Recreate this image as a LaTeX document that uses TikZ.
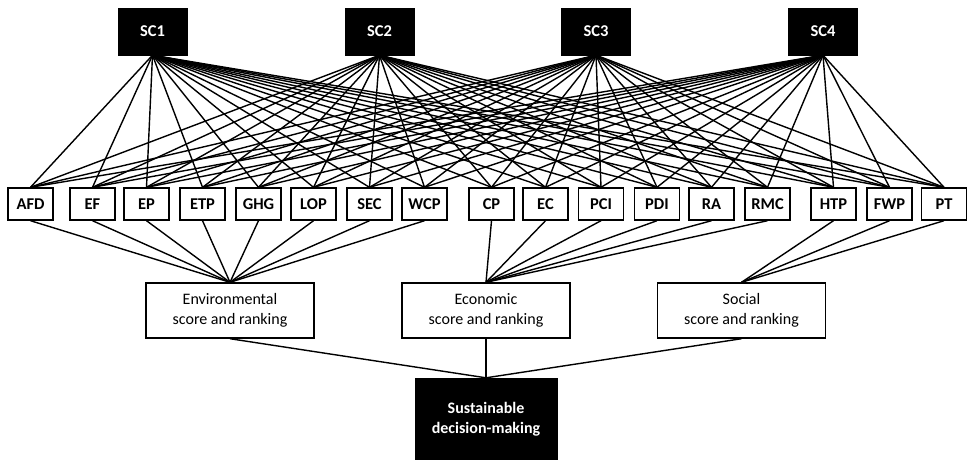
\documentclass[tikz,border=0pt]{standalone}
\usepackage{fontspec}
\setmainfont{Carlito}
\begin{document}
\begin{tikzpicture}[x=1pt,y=-1pt,
  scenario/.style={draw=black,fill=black,text=white,font=\fontsize{16.5}{19}\selectfont\bfseries,
    minimum width=69pt,minimum height=47pt,inner sep=0pt},
  indicator/.style={draw=black,line width=1.4pt,fill=white,font=\fontsize{16.5}{19}\selectfont\bfseries,
    minimum width=45pt,minimum height=32pt,inner sep=0pt},
  pillar/.style={draw=black,line width=1.4pt,fill=white,font=\fontsize{16}{19.5}\selectfont,
    align=center,minimum width=168pt,minimum height=55pt,inner sep=0pt},
  decision/.style={draw=black,fill=black,text=white,font=\fontsize{16}{20}\selectfont\bfseries,
    align=center,minimum width=142pt,minimum height=82pt,inner sep=0pt},
  link/.style={line width=1.4pt}]
\useasboundingbox (0,0) rectangle (968,459);

% scenarios
\node[scenario] (SC1) at (152.5,31.5) {SC1};
\node[scenario] (SC2) at (379.5,31.5) {SC2};
\node[scenario] (SC3) at (596,31.5) {SC3};
\node[scenario] (SC4) at (823,31.5) {SC4};

% indicators
\foreach \n/\x in {AFD/30.5, EF/92.5, EP/146.5, ETP/202.5, GHG/258.5, LOP/313.5, SEC/369.5, WCP/424.5,
                   CP/491.5, EC/545.5, PCI/601, PDI/657, RA/711.5, RMC/767.5,
                   HTP/833.5, FWP/889.5, PT/944}
  \node[indicator] (\n) at (\x,204) {\n};

% pillars
\node[pillar] (env) at (230,310.5) {Environmental\\score and ranking};
\node[pillar] (eco) at (486,310.5) {Economic\\score and ranking};
\node[pillar] (soc) at (741.5,310.5) {Social\\score and ranking};

% final decision
\node[decision] (sdm) at (486,419) {Sustainable\\decision-making};

% every scenario feeds every indicator
\foreach \s in {SC1,SC2,SC3,SC4}
  \foreach \n in {AFD,EF,EP,ETP,GHG,LOP,SEC,WCP,CP,EC,PCI,PDI,RA,RMC,HTP,FWP,PT}
    \draw[link] (\s.south) -- (\n.north);

% indicators grouped into pillars
\foreach \n in {AFD,EF,EP,ETP,GHG,LOP,SEC,WCP}
  \draw[link] (\n.south) -- (env.north);
\foreach \n in {CP,EC,PCI,PDI,RA,RMC}
  \draw[link] (\n.south) -- (eco.north);
\foreach \n in {HTP,FWP,PT}
  \draw[link] (\n.south) -- (soc.north);

% pillars into the decision
\foreach \p in {env,eco,soc}
  \draw[link] (\p.south) -- (sdm.north);
\end{tikzpicture}
\end{document}
